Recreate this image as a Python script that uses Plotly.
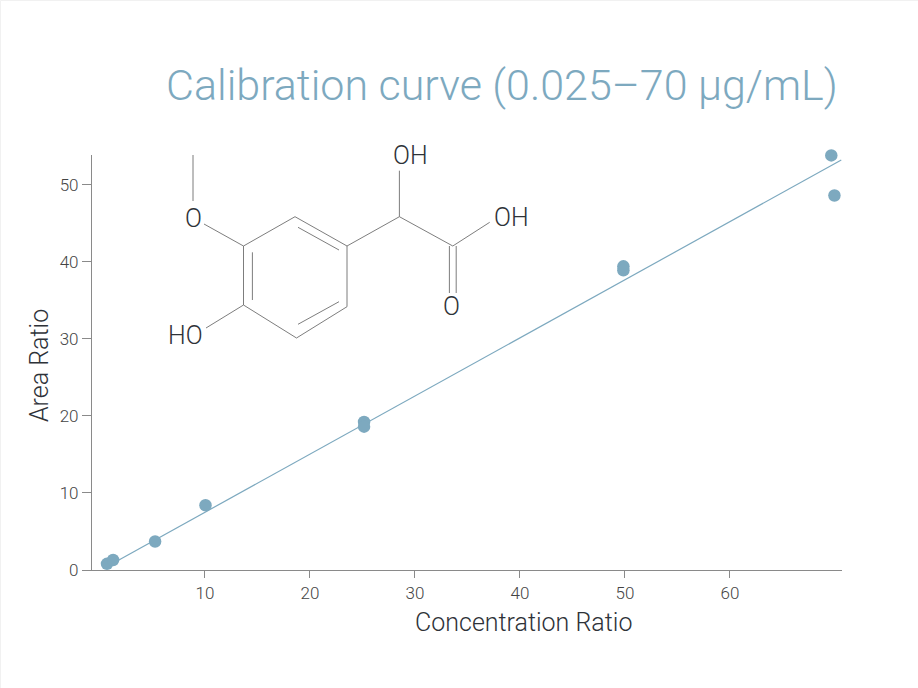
import plotly.graph_objects as go

# Data
conc = [0.67, 1.25, 5.25, 10.05, 25.15, 25.15, 49.85, 49.85, 69.65, 69.95]
area = [0.8, 1.3, 3.7, 8.4, 19.2, 18.6, 39.4, 38.9, 53.8, 48.6]
fit_x = [0.6, 70.6]
fit_y = [0.4, 53.2]
x_ticks = [10, 20, 30, 40, 50, 60]
y_ticks = [0, 10, 20, 30, 40, 50]
title_text = "Calibration curve (0.025–70 µg/mL)"
x_title = "Concentration Ratio"
y_title = "Area Ratio"

# Molecule sketch, in page pixels
bonds = [
    (193, 155, 193, 201), (204, 224, 243.5, 246), (243.5, 246, 295, 216.7),
    (295, 216.7, 347, 246), (347, 246, 347, 306.7), (347, 306.7, 296.5, 338),
    (296.5, 338, 243.5, 305), (243.5, 305, 243.5, 246), (298, 227.3, 339, 250),
    (252.4, 252.3, 252.4, 300), (298, 324.3, 339, 301.7), (243.5, 305, 206, 328),
    (347, 246, 399.4, 216.7), (399.4, 216.7, 399.4, 170.7), (399.4, 216.7, 452.8, 246),
    (452.8, 246, 489.7, 222.3), (449.4, 246, 449.4, 293), (456.2, 246, 456.2, 293),
]
atoms = [("O", 193, 218), ("OH", 410.5, 155), ("OH", 511.5, 217.7), ("O", 451, 306.7), ("HO", 185, 335.7)]

W, H = 918, 688
FONT = "Roboto, sans-serif"
BLUE = "#7DA9BF"
INK = "#2E3238"
AXIS = "#8A8A8A"
L, R, T, B = 92, 842, 155, 570


def px(x):
    return (x - L) / (R - L)


def py(y):
    return (B - y) / (B - T)


fig = go.Figure()
fig.add_trace(go.Scatter(x=fit_x, y=fit_y, mode="lines", line=dict(color=BLUE, width=1.2), hoverinfo="skip"))
fig.add_trace(go.Scatter(x=conc, y=area, mode="markers", marker=dict(color=BLUE, size=12.5)))

for x0, y0, x1, y1 in bonds:
    fig.add_shape(type="line", xref="paper", yref="paper", x0=px(x0), y0=py(y0), x1=px(x1), y1=py(y1),
                  line=dict(color="#6E6E6E", width=0.9))
fig.add_shape(type="rect", xref="paper", yref="paper", x0=px(0.5), y0=py(0.5), x1=px(W + 2), y1=py(H + 2),
              line=dict(color="#F1F1F1", width=1))
for label, x, y in atoms:
    fig.add_annotation(text=label, xref="paper", yref="paper", x=px(x), y=py(y), xanchor="center", yanchor="middle",
                       showarrow=False, font=dict(family=FONT, size=25, weight=300, color=INK))

fig.add_annotation(text=title_text, xref="paper", yref="paper", x=px(840), y=py(85), xanchor="right", yanchor="middle",
                   showarrow=False, font=dict(family=FONT, size=43, weight=300, color=BLUE))
fig.add_annotation(text=x_title, xref="paper", yref="paper", x=px(523), y=py(622), xanchor="center", yanchor="middle",
                   showarrow=False, font=dict(family=FONT, size=25, weight=300, color=INK))
fig.add_annotation(text=y_title, xref="paper", yref="paper", x=px(39), y=py(366), xanchor="center", yanchor="middle",
                   textangle=-90, showarrow=False, font=dict(family=FONT, size=25, weight=300, color=INK))

fig.update_layout(
    width=W, height=H, autosize=False, showlegend=False,
    margin=dict(l=L, r=W - R, t=T, b=H - B, autoexpand=False),
    paper_bgcolor="white", plot_bgcolor="white",
    xaxis=dict(range=[-0.76, 70.67], tickvals=x_ticks, ticks="outside", ticklen=7, tickwidth=1, tickcolor=AXIS,
               showgrid=False, zeroline=False, showline=True, linecolor=AXIS, linewidth=1.2,
               tickfont=dict(family=FONT, size=17, weight=300, color="#444444")),
    yaxis=dict(range=[0, 53.85], tickvals=y_ticks, ticks="outside", ticklen=9, tickwidth=1, tickcolor=AXIS,
               showgrid=False, zeroline=False, showline=True, linecolor=AXIS, linewidth=1.2,
               tickfont=dict(family=FONT, size=17, weight=300, color="#444444")),
)
fig.update_traces(cliponaxis=False)
fig.write_html("out.html", config={"displayModeBar": False}, post_script="document.body.style.margin='0';")
